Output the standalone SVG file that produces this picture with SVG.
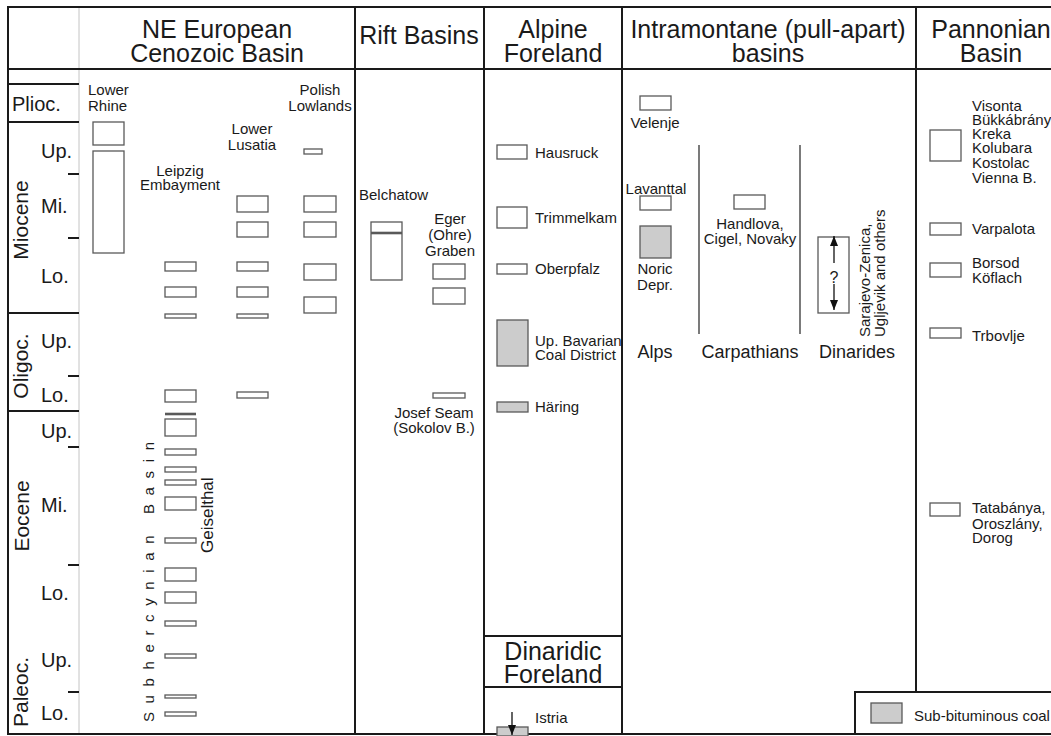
<svg xmlns="http://www.w3.org/2000/svg" width="1051" height="736" viewBox="0 0 1051 736">
  <defs>
    <style>
      .grid { stroke: #1a1a1a; stroke-width: 2; fill: none; }
      .soft { stroke: #c4c4c4; stroke-width: 1; fill: none; }
      .sep  { stroke: #333; stroke-width: 1.3; fill: none; }
      .bx   { fill: #ffffff; stroke: #595959; stroke-width: 1.3; }
      .sb   { fill: #cccccc; stroke: #595959; stroke-width: 1.3; }
      .bar  { stroke: #595959; stroke-width: 2.6; }
      .arr  { stroke: #111; stroke-width: 1.3; fill: none; }
      text  { font-family: "Liberation Sans", Arial, Helvetica, sans-serif; fill: #1a1a1a; }
      .h    { font-size: 25px; text-anchor: middle; }
      .ep   { font-size: 20px; }
      .rot  { font-size: 21px; text-anchor: middle; }
      .lb   { font-size: 15px; }
      .c    { text-anchor: middle; }
      .reg  { font-size: 18px; text-anchor: middle; }
    </style>
    <marker id="tip" viewBox="0 0 10 8" refX="10" refY="4" markerWidth="10" markerHeight="8" markerUnits="userSpaceOnUse" orient="auto">
      <path d="M0,0 L10,4 L0,8 Z" fill="#111"/>
    </marker>
  </defs>

  <rect width="1051" height="736" fill="#ffffff"/>

  <!-- table frame and column rules -->
  <g id="frame">
    <line class="soft" x1="79" y1="7" x2="79" y2="734"/>
    <line class="grid" x1="8" y1="7" x2="1051" y2="7"/>
    <line class="grid" x1="8" y1="69" x2="1051" y2="69"/>
    <line class="grid" x1="8" y1="734" x2="1051" y2="734"/>
    <line class="grid" x1="8" y1="6" x2="8" y2="735"/>
    <line class="grid" x1="355" y1="7" x2="355" y2="734"/>
    <line class="grid" x1="484" y1="7" x2="484" y2="734"/>
    <line class="grid" x1="622" y1="7" x2="622" y2="734"/>
    <line class="grid" x1="916" y1="7" x2="916" y2="692"/>
    <!-- Dinaridic Foreland sub-header -->
    <line class="grid" x1="484" y1="636" x2="622" y2="636"/>
    <line class="grid" x1="484" y1="687" x2="622" y2="687"/>
    <!-- epoch boundaries -->
    <line class="grid" x1="8" y1="84" x2="79" y2="84"/>
    <line class="grid" x1="8" y1="122" x2="79" y2="122"/>
    <line class="grid" x1="8" y1="313" x2="79" y2="313"/>
    <line class="grid" x1="8" y1="411" x2="79" y2="411"/>
    <!-- sub-epoch ticks -->
    <line class="grid" x1="68" y1="174" x2="79" y2="174"/>
    <line class="grid" x1="68" y1="238" x2="79" y2="238"/>
    <line class="grid" x1="68" y1="376" x2="79" y2="376"/>
    <line class="grid" x1="68" y1="447" x2="79" y2="447"/>
    <line class="grid" x1="68" y1="565" x2="79" y2="565"/>
    <line class="grid" x1="68" y1="692" x2="79" y2="692"/>
    <!-- intramontane sub-columns -->
    <line class="sep" x1="699" y1="145" x2="699" y2="334"/>
    <line class="sep" x1="800" y1="145" x2="800" y2="334"/>
  </g>

  <!-- column headers -->
  <g id="headers">
    <text class="h" x="217" y="38">NE European</text>
    <text class="h" x="217" y="62">Cenozoic Basin</text>
    <text class="h" x="419" y="44">Rift Basins</text>
    <text class="h" x="553" y="38">Alpine</text>
    <text class="h" x="553" y="62">Foreland</text>
    <text class="h" x="768" y="38">Intramontane (pull-apart)</text>
    <text class="h" x="768" y="62">basins</text>
    <text class="h" x="991" y="38">Pannonian</text>
    <text class="h" x="991" y="62">Basin</text>
    <text class="h" x="553" y="660">Dinaridic</text>
    <text class="h" x="553" y="683">Foreland</text>
  </g>

  <!-- stratigraphic scale -->
  <g id="timescale">
    <text class="ep" x="12" y="111">Plioc.</text>
    <text class="rot" transform="translate(28,220) rotate(-90)">Miocene</text>
    <text class="ep" x="41" y="158">Up.</text>
    <text class="ep" x="41" y="213">Mi.</text>
    <text class="ep" x="41" y="283">Lo.</text>
    <text class="rot" transform="translate(28,366) rotate(-90)">Oligoc.</text>
    <text class="ep" x="41" y="348">Up.</text>
    <text class="ep" x="41" y="402">Lo.</text>
    <text class="rot" transform="translate(29,516) rotate(-90)">Eocene</text>
    <text class="ep" x="41" y="438">Up.</text>
    <text class="ep" x="41" y="512">Mi.</text>
    <text class="ep" x="41" y="600">Lo.</text>
    <text class="rot" transform="translate(28,692) rotate(-90)">Paleoc.</text>
    <text class="ep" x="41" y="667">Up.</text>
    <text class="ep" x="41" y="720">Lo.</text>
  </g>

  <!-- NE European Cenozoic Basin -->
  <g id="lower-rhine">
    <text class="lb" x="88" y="95">Lower</text>
    <text class="lb" x="88" y="111">Rhine</text>
    <rect class="bx" x="93" y="122" width="31" height="23"/>
    <rect class="bx" x="93" y="151" width="31" height="102"/>
  </g>

  <g id="leipzig-embayment">
    <text class="lb c" x="180" y="176">Leipzig</text>
    <text class="lb c" x="180" y="190">Embayment</text>
    <rect class="bx" x="165" y="262" width="31" height="9"/>
    <rect class="bx" x="165" y="287" width="31" height="10"/>
    <rect class="bx" x="165" y="314" width="31" height="4"/>
    <rect class="bx" x="165" y="390" width="31" height="12"/>
    <line class="bar" x1="165" y1="414" x2="196" y2="414"/>
    <rect class="bx" x="165" y="419" width="31" height="17"/>
  </g>

  <g id="subhercynian-basin">
    <text class="lb" transform="translate(154,722) rotate(-90)" textLength="280" lengthAdjust="spacing">Subhercynian Basin</text>
    <text class="lb" font-size="17" transform="translate(213,553) rotate(-90)" style="font-size:17px">Geiselthal</text>
    <rect class="bx" x="165" y="449" width="31" height="6"/>
    <rect class="bx" x="165" y="467" width="31" height="5"/>
    <rect class="bx" x="165" y="480" width="31" height="5"/>
    <rect class="bx" x="165" y="497" width="31" height="13"/>
    <rect class="bx" x="165" y="538" width="31" height="5"/>
    <rect class="bx" x="165" y="568" width="31" height="13"/>
    <rect class="bx" x="165" y="592" width="31" height="11"/>
    <rect class="bx" x="165" y="621" width="31" height="5"/>
    <rect class="bx" x="165" y="654" width="31" height="4"/>
    <rect class="bx" x="165" y="695" width="31" height="3"/>
    <rect class="bx" x="165" y="712" width="31" height="4"/>
  </g>

  <g id="lower-lusatia">
    <text class="lb c" x="252" y="134">Lower</text>
    <text class="lb c" x="252" y="150">Lusatia</text>
    <rect class="bx" x="237" y="196" width="31" height="16"/>
    <rect class="bx" x="237" y="222" width="31" height="15"/>
    <rect class="bx" x="237" y="262" width="31" height="9"/>
    <rect class="bx" x="237" y="287" width="31" height="10"/>
    <rect class="bx" x="237" y="314" width="31" height="4"/>
    <rect class="bx" x="237" y="392" width="31" height="6"/>
  </g>

  <g id="polish-lowlands">
    <text class="lb c" x="320" y="95">Polish</text>
    <text class="lb c" x="320" y="111">Lowlands</text>
    <rect class="bx" x="304" y="149" width="18" height="5"/>
    <rect class="bx" x="304" y="196" width="32" height="16"/>
    <rect class="bx" x="304" y="222" width="32" height="15"/>
    <rect class="bx" x="304" y="264" width="32" height="16"/>
    <rect class="bx" x="304" y="297" width="32" height="16"/>
  </g>

  <!-- Rift Basins -->
  <g id="belchatow">
    <text class="lb" x="359" y="200">Belchatow</text>
    <rect class="bx" x="371" y="222" width="31" height="58"/>
    <line class="bar" x1="371" y1="233" x2="402" y2="233"/>
  </g>

  <g id="eger-graben">
    <text class="lb c" x="450" y="224">Eger</text>
    <text class="lb c" x="450" y="240">(Ohre)</text>
    <text class="lb c" x="450" y="256">Graben</text>
    <rect class="bx" x="433" y="264" width="32" height="15"/>
    <rect class="bx" x="433" y="288" width="32" height="16"/>
  </g>

  <g id="josef-seam">
    <rect class="bx" x="433" y="393" width="32" height="5"/>
    <text class="lb c" x="434" y="418">Josef Seam</text>
    <text class="lb c" x="434" y="433">(Sokolov B.)</text>
  </g>

  <!-- Alpine Foreland -->
  <g id="hausruck">
    <rect class="bx" x="497" y="145" width="30" height="14"/>
    <text class="lb" x="535" y="158">Hausruck</text>
  </g>
  <g id="trimmelkam">
    <rect class="bx" x="497" y="207" width="30" height="21"/>
    <text class="lb" x="535" y="223">Trimmelkam</text>
  </g>
  <g id="oberpfalz">
    <rect class="bx" x="497" y="264" width="30" height="10"/>
    <text class="lb" x="535" y="274">Oberpfalz</text>
  </g>
  <g id="up-bavarian">
    <rect class="sb" x="497" y="320" width="31" height="46"/>
    <text class="lb" x="535" y="346">Up. Bavarian</text>
    <text class="lb" x="535" y="360">Coal District</text>
  </g>
  <g id="haering">
    <rect class="sb" x="497" y="402" width="31" height="10"/>
    <text class="lb" x="535" y="412">Häring</text>
  </g>

  <!-- Dinaridic Foreland -->
  <g id="istria">
    <text class="lb" x="535" y="723">Istria</text>
    <rect class="sb" x="497" y="727" width="31" height="9"/>
  </g>

  <!-- Intramontane basins -->
  <g id="velenje">
    <rect class="bx" x="640" y="96" width="31" height="14"/>
    <text class="lb c" x="655" y="128">Velenje</text>
  </g>
  <g id="lavanttal">
    <text class="lb c" x="656" y="194">Lavanttal</text>
    <rect class="bx" x="640" y="196" width="31" height="14"/>
  </g>
  <g id="noric-depression">
    <rect class="sb" x="640" y="226" width="31" height="32"/>
    <text class="lb c" x="655" y="274">Noric</text>
    <text class="lb c" x="655" y="290">Depr.</text>
  </g>
  <g id="handlova">
    <rect class="bx" x="734" y="195" width="31" height="14"/>
    <text class="lb c" x="750" y="229">Handlova,</text>
    <text class="lb c" x="750" y="244">Cigel, Novaky</text>
  </g>
  <g id="dinarides-basins">
    <rect class="bx" x="818" y="237" width="31" height="76"/>
    <text class="c" x="834" y="283" style="font-size:16px">?</text>
    <text class="lb" transform="translate(870,337) rotate(-90)">Sarajevo-Zenica,</text>
    <text class="lb" transform="translate(885,337) rotate(-90)">Ugljevik and others</text>
  </g>
  <g id="subregions">
    <text class="reg" x="655" y="358">Alps</text>
    <text class="reg" x="750" y="358">Carpathians</text>
    <text class="reg" x="857" y="358">Dinarides</text>
  </g>

  <!-- Pannonian Basin -->
  <g id="visonta">
    <rect class="bx" x="930" y="130" width="31" height="31"/>
    <text class="lb" x="972" y="111">Visonta</text>
    <text class="lb" x="972" y="125">Bükkábrány</text>
    <text class="lb" x="972" y="139">Kreka</text>
    <text class="lb" x="972" y="153">Kolubara</text>
    <text class="lb" x="972" y="168">Kostolac</text>
    <text class="lb" x="972" y="183">Vienna B.</text>
  </g>
  <g id="varpalota">
    <rect class="bx" x="930" y="223" width="31" height="12"/>
    <text class="lb" x="972" y="234">Varpalota</text>
  </g>
  <g id="borsod">
    <rect class="bx" x="930" y="263" width="31" height="14"/>
    <text class="lb" x="972" y="268">Borsod</text>
    <text class="lb" x="972" y="283">Köflach</text>
  </g>
  <g id="trbovlje">
    <rect class="bx" x="930" y="328" width="31" height="10"/>
    <text class="lb" x="972" y="341">Trbovlje</text>
  </g>
  <g id="tatabanya">
    <rect class="bx" x="930" y="503" width="30" height="13"/>
    <text class="lb" x="972" y="513">Tatabánya,</text>
    <text class="lb" x="972" y="529">Oroszlány,</text>
    <text class="lb" x="972" y="543">Dorog</text>
  </g>

  <!-- legend -->
  <g id="legend">
    <path class="grid" d="M855,735 V692 H1051"/>
    <rect class="sb" x="871" y="703" width="31" height="20"/>
    <text class="lb" x="914" y="721">Sub-bituminous coal</text>
  </g>

  <!-- range arrows -->
  <g id="connectors">
    <line class="arr" x1="834" y1="263" x2="834" y2="236" marker-end="url(#tip)"/>
    <line class="arr" x1="834" y1="284" x2="834" y2="310" marker-end="url(#tip)"/>
    <line class="arr" x1="512" y1="712" x2="512" y2="735" marker-end="url(#tip)"/>
  </g>
</svg>
